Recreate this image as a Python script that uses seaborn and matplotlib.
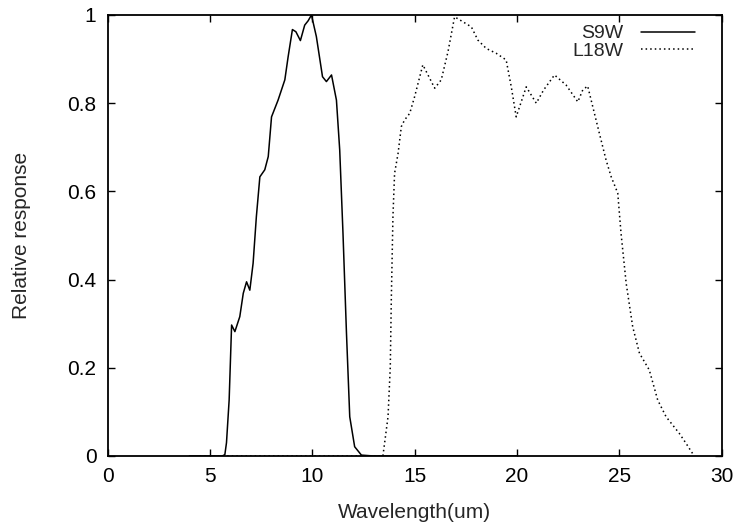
import numpy as np
import pandas as pd
import matplotlib
matplotlib.use("Agg")
import matplotlib.pyplot as plt
import seaborn as sns

# S9W filter response
s9w_wl = [4.0, 5.0, 5.6, 5.73, 5.81, 5.94, 6.06, 6.22, 6.46, 6.63, 6.79, 6.95, 7.11,
          7.27, 7.44, 7.68, 7.85, 8.01, 8.33, 8.66, 8.82, 9.03, 9.20, 9.42, 9.63,
          9.80, 9.96, 10.20, 10.50, 10.69, 10.94, 11.18, 11.34, 11.50, 11.67,
          11.83, 12.07, 12.40, 13.0, 20.0]
s9w_resp = [0.0, 0.0, 0.0, 0.003, 0.03, 0.127, 0.297, 0.282, 0.316, 0.369, 0.395,
            0.376, 0.437, 0.543, 0.633, 0.649, 0.679, 0.769, 0.807, 0.853, 0.905,
            0.967, 0.962, 0.942, 0.977, 0.987, 1.0, 0.951, 0.860, 0.849, 0.864,
            0.807, 0.694, 0.505, 0.279, 0.089, 0.021, 0.002, 0.0, 0.0]

# L18W filter response
l18w_wl = [4.5, 10.0, 13.3, 13.45, 13.70, 13.81, 13.86, 13.94, 14.02, 14.19, 14.35,
           14.51, 14.76, 15.0, 15.40, 15.98, 16.30, 16.63, 16.95, 17.77, 18.09,
           18.50, 18.99, 19.47, 19.72, 19.96, 20.45, 20.94, 21.30, 21.83, 22.40,
           22.97, 23.21, 23.45, 23.70, 24.02, 24.35, 24.60, 24.92, 25.08, 25.33,
           25.65, 25.98, 26.46, 26.87, 27.28, 27.93, 28.25, 28.57]
l18w_resp = [0.0, 0.0, 0.0, 0.0, 0.089, 0.202, 0.354, 0.543, 0.641, 0.686, 0.747,
             0.762, 0.777, 0.815, 0.887, 0.834, 0.853, 0.917, 0.996, 0.973, 0.943,
             0.924, 0.913, 0.898, 0.837, 0.769, 0.837, 0.800, 0.830, 0.864, 0.841,
             0.803, 0.830, 0.839, 0.792, 0.732, 0.671, 0.633, 0.596, 0.505, 0.392,
             0.293, 0.233, 0.195, 0.127, 0.089, 0.051, 0.029, 0.006]

sns.set_style("ticks")
plt.rcParams['font.family'] = ['Liberation Sans', 'DejaVu Sans']
fs = 15

df_s = pd.DataFrame({"wl": s9w_wl, "resp": s9w_resp})
df_l = pd.DataFrame({"wl": l18w_wl, "resp": l18w_resp})

fig = plt.figure(figsize=(7.38, 5.26), dpi=100)
ax = fig.add_axes([0.1457, 0.1331, 0.978 - 0.1457, 0.9715 - 0.1331])

sns.lineplot(data=df_s, x="wl", y="resp", ax=ax, color="black", lw=1.1,
             label="S9W", sort=False)
sns.lineplot(data=df_l, x="wl", y="resp", ax=ax, color="black", lw=1.1,
             linestyle=(0, (1, 2)), label="L18W", sort=False)

ax.set_xlim(0, 30)
ax.set_ylim(0, 1)
ax.set_xticks(np.arange(0, 31, 5))
ax.set_yticks(np.arange(0, 1.01, 0.2))
ax.set_yticklabels(["0", "0.2", "0.4", "0.6", "0.8", "1"])
ax.tick_params(direction="in", length=5, width=1, top=True, right=True,
               labelsize=fs, pad=8, colors="black")
for s in ax.spines.values():
    s.set_linewidth(1.3)
    s.set_color("black")

ax.set_xlabel("Wavelength(um)", fontsize=fs, labelpad=12)
ax.set_ylabel("Relative response", fontsize=fs, labelpad=26)

ax.legend(loc="upper right", frameon=False, markerfirst=False, handlelength=2.8,
          fontsize=14, borderaxespad=0.0, labelspacing=0.0, handletextpad=0.9,
          borderpad=0.3, bbox_to_anchor=(0.966, 0.991))

fig.savefig("out.png", dpi=100)
